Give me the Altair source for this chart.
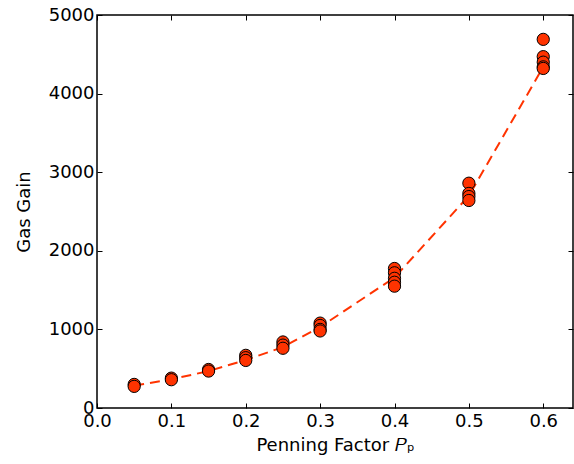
import altair as alt
import pandas as pd

# measured points (Penning factor, gas gain)
pf_points = [0.05, 0.05,
             0.1, 0.1,
             0.15, 0.15,
             0.2, 0.2, 0.2,
             0.25, 0.25, 0.25,
             0.3, 0.3, 0.3, 0.3,
             0.4, 0.4, 0.4, 0.4, 0.4,
             0.5, 0.5, 0.5, 0.5,
             0.6, 0.6, 0.6, 0.6, 0.6]
gain_points = [300, 275,
               380, 360,
               490, 470,
               670, 640, 605,
               840, 800, 760,
               1080, 1050, 1000, 980,
               1775, 1720, 1650, 1600, 1550,
               2860, 2730, 2690, 2640,
               4690, 4470, 4400, 4340, 4320]

# fitted curve (dashed)
pf_fit = [0.05, 0.1, 0.15, 0.2, 0.25, 0.3, 0.4, 0.5, 0.6]
gain_fit = [285, 365, 470, 610, 775, 1030, 1660, 2700, 4340]

x_ticks = [0.0, 0.1, 0.2, 0.3, 0.4, 0.5, 0.6]
y_ticks = [0, 1000, 2000, 3000, 4000, 5000]

pts = pd.DataFrame({"pf": pf_points, "gain": gain_points})
fit = pd.DataFrame({"pf": pf_fit, "gain": gain_fit})

FONT = "DejaVu Sans"
TS = 5

xscale = alt.Scale(domain=[0, 0.64], nice=False, zero=False)
yscale = alt.Scale(domain=[0, 5000], nice=False)

x_bottom = alt.Axis(orient="bottom", values=x_ticks, format=".1f", offset=-TS,
                    tickSize=TS, domain=False, grid=False, labelPadding=4,
                    labelFlush=False, labelOverlap=False,
                    title="Penning Factor 𝑃ₚ", titlePadding=6)
y_left = alt.Axis(orient="left", values=y_ticks, format="d", offset=-TS,
                  tickSize=TS, domain=False, grid=False, labelPadding=3,
                  labelFlush=False, labelOverlap=False,
                  title="Gas Gain", titlePadding=15)
x_top = alt.Axis(orient="top", values=x_ticks, offset=-TS, tickSize=TS,
                 domain=False, grid=False, labels=False, title=None)
y_right = alt.Axis(orient="right", values=y_ticks, offset=-TS, tickSize=TS,
                   domain=False, grid=False, labels=False, title=None)

line = alt.Chart(fit).mark_line(
    color="#FF3300", strokeWidth=2, strokeDash=[10, 6]
).encode(
    x=alt.X("pf:Q", scale=xscale, axis=x_bottom),
    y=alt.Y("gain:Q", scale=yscale, axis=y_left),
)

points = alt.Chart(pts).mark_point(
    filled=True, shape="circle", size=150, fill="#FF3300",
    stroke="black", strokeWidth=1, opacity=1
).encode(
    x=alt.X("pf:Q", scale=xscale, axis=x_top),
    y=alt.Y("gain:Q", scale=yscale, axis=y_right),
)

chart = alt.layer(line, points).properties(
    width=476, height=393,
    autosize=alt.AutoSizeParams(type="none"),
    padding={"left": 97, "top": 15, "right": 1, "bottom": 56},
    background="white",
).configure_view(
    stroke="black", strokeWidth=1.5
).configure_axis(
    labelFont=FONT, titleFont=FONT, labelFontSize=18, titleFontSize=18,
    labelColor="black", titleColor="black", tickColor="black",
    tickWidth=1, titleFontWeight="normal"
)

chart.save("out.html", embed_options={"renderer": "svg", "actions": False})
